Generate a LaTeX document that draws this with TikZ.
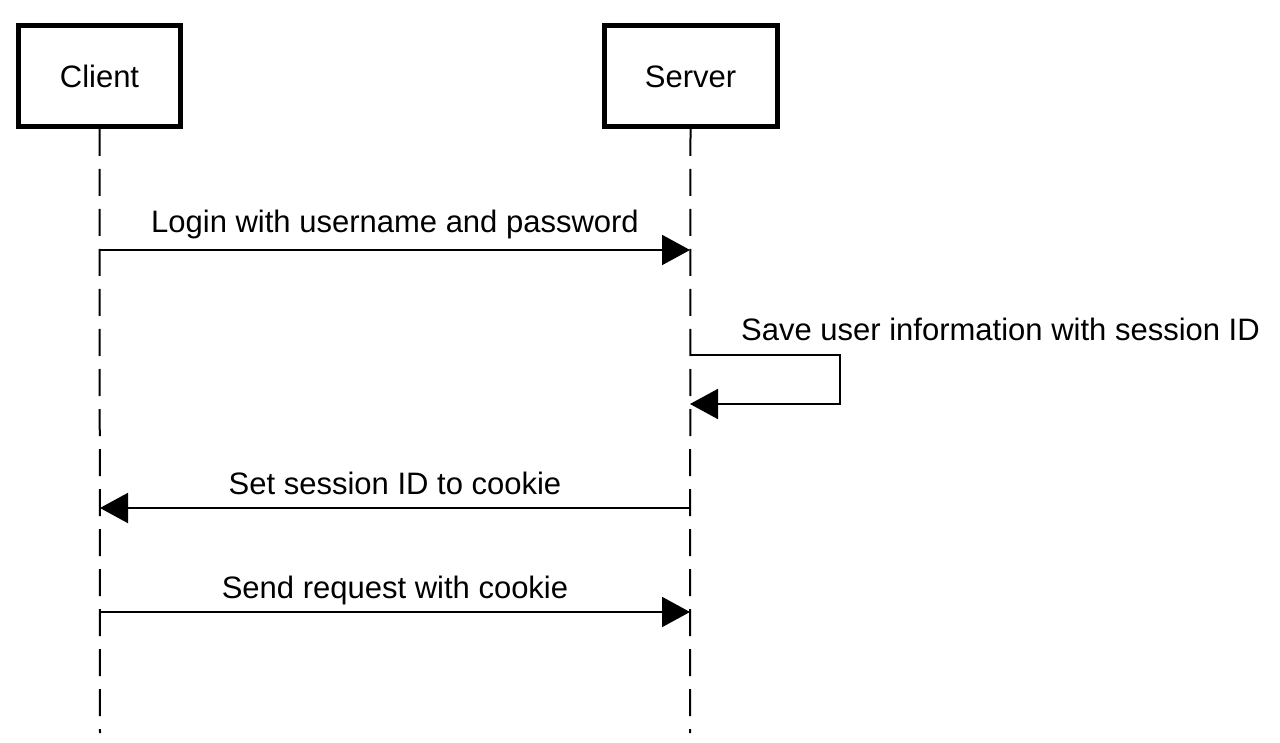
\documentclass[tikz,border=0pt]{standalone}
\usepackage{fontspec}
\setmainfont{Liberation Sans}
\usetikzlibrary{arrows.meta}
\begin{document}
\begin{tikzpicture}[x=1pt,y=-1pt,
  actor/.style={draw=black,line width=5pt,fill=white,minimum width=162pt,minimum height=101pt,inner sep=0pt,text height=23pt,text depth=0pt,font=\fontsize{31}{37}\selectfont},
  lifeline/.style={line width=2pt,dash pattern=on 27pt off 13pt},
  msg/.style={line width=2pt,-{Triangle[length=28pt,width=30pt]}},
  lbl/.style={inner sep=0pt,font=\fontsize{31}{37}\selectfont}]
\useasboundingbox (0,0) rectangle (1280,743);
\node[actor] (client) at (99.5,76) {Client};
\node[actor,minimum width=173pt] (server) at (690.5,76) {Server};
\coordinate (cend) at (100,733);
\coordinate (send) at (690,733);
\draw[lifeline] (client.south) -- (cend);
\draw[lifeline] (server.south) -- (send);
% message points
\coordinate (c1) at (100,250);
\coordinate (s1) at (690,250);
\coordinate (s2a) at (690,355);
\coordinate (s2b) at (840,355);
\coordinate (s2c) at (840,404);
\coordinate (s2d) at (690,404);
\coordinate (s3) at (690,508);
\coordinate (c3) at (100,508);
\coordinate (c4) at (100,612);
\coordinate (s4) at (690,612);
\draw[msg] (c1) -- (s1);
\draw[msg] (s2a) -- (s2b) -- (s2c) -- (s2d);
\draw[msg] (s3) -- (c3);
\draw[msg] (c4) -- (s4);
\node[lbl,anchor=base] (l1) at (395,233) {Login with username and password};
\node[lbl,anchor=base west] (l2) at (741,341) {Save user information with session ID};
\node[lbl,anchor=base] (l3) at (395,494) {Set session ID to cookie};
\node[lbl,anchor=base] (l4) at (395,598) {Send request with cookie};
\end{tikzpicture}
\end{document}
